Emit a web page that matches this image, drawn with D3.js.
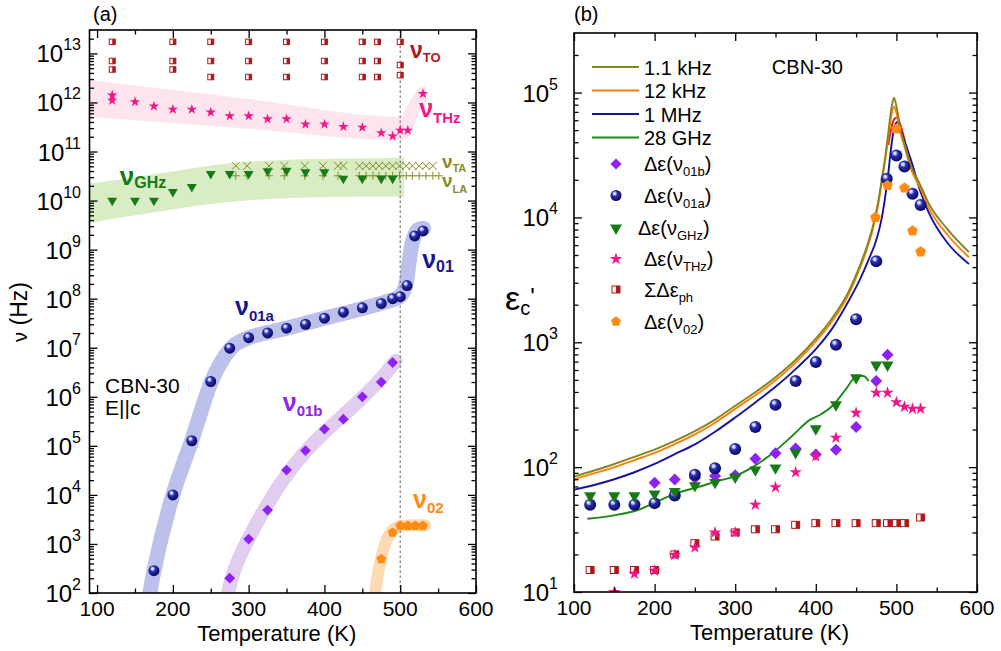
<!DOCTYPE html>
<html><head><meta charset="utf-8">
<script src="https://cdn.jsdelivr.net/npm/d3@7/dist/d3.min.js"></script>
<style>
body{margin:0;background:#fff;}
svg{display:block;}
text{font-family:"Liberation Sans",Arial,Helvetica,sans-serif;}
</style></head>
<body>
<svg id="chart" width="1001" height="651"></svg>
<script>
// ================= Panel (a) data =================
const toT   = [120,120,120,200,200,200,250,250,250,300,300,300,350,350,350,400,400,400,450,450,450,470,470,470,500,500,500];
const toNu  = [1.72e13,7.0e12,4.7e12,1.72e13,7.0e12,4.7e12,1.72e13,7.0e12,3.3e12,1.72e13,7.0e12,3.3e12,1.72e13,7.0e12,3.3e12,1.72e13,7.0e12,3.3e12,1.72e13,7.0e12,3.3e12,1.72e13,7.0e12,3.3e12,1.72e13,5.8e12,3.6e12];

const thzT  = [120,120,150,175,200,225,250,275,300,325,350,375,400,425,450,475,490,500,510,530];
const thzNu = [1.4e12,1.1e12,1.03e12,8.4e11,7.2e11,7.2e11,6.3e11,5.3e11,5.3e11,4.6e11,4.6e11,3.6e11,3.6e11,3.2e11,3.1e11,2.4e11,2.05e11,2.7e11,2.7e11,1.5e12];
const thzBandT  = [90,300,500,510,525,534];
const thzBandLo = [5.1e11,2.9e11,1.71e11,1.9e11,6.3e11,1.12e12];
const thzBandHi = [2.86e12,1.17e12,5.1e11,8.9e11,1.95e12,2.14e12];

const ghzT  = [120,150,175,200,225,250,275,300,325,350,375,400,425,450,475,490];
const ghzNu = [1.0e10,1.0e10,1.0e10,1.5e10,1.9e10,3.5e10,3.5e10,3.5e10,4.0e10,4.1e10,3.8e10,3.8e10,2.8e10,2.8e10,2.8e10,2.8e10];
const ghzBandT  = [90,150,200,275,350,430,505];
const ghzBandLo = [3.5e9,5.0e9,6.6e9,9.3e9,1.12e10,1.18e10,1.2e10];
const ghzBandHi = [2.24e10,3.0e10,3.9e10,5.75e10,6.8e10,7.2e10,7.5e10];

const taT  = [283,298,327,347,374,398,418,425,446,455,464,472,481,490,499,508,516,525,534,543];
const taNu = [5.1e10,5.1e10,5.1e10,5.1e10,5.1e10,5.1e10,5.1e10,5.1e10,5.1e10,5.1e10,5.1e10,5.1e10,5.1e10,5.1e10,5.1e10,5.1e10,5.1e10,5.1e10,5.1e10,5.1e10];
const laT  = [283,298,327,347,374,398,418,446,455,464,472,481,490,499,508,516,525,534,543,551];
const laNu = [3.2e10,3.2e10,3.2e10,3.2e10,3.2e10,3.2e10,3.2e10,3.2e10,3.2e10,3.2e10,3.2e10,3.2e10,3.2e10,3.2e10,3.2e10,3.2e10,3.2e10,3.2e10,3.2e10,3.2e10];

const n01T  = [175,200,225,250,275,300,325,350,375,400,425,450,475,490,500,509,519,530];
const n01Nu = [2.85e2,1.0e4,1.27e5,2.05e6,9.8e6,1.6e7,2.0e7,2.5e7,3.0e7,4.0e7,5.3e7,6.5e7,8.0e7,1.0e8,1.1e8,1.85e8,1.9e9,2.4e9];
const n01BandT  = [166,175,200,225,250,265,280,300,350,400,450,480,500,507,512,517,523,531];
const n01BandNu = [40,2.85e2,1.0e4,1.3e5,1.9e6,5.5e6,1.1e7,1.6e7,2.5e7,4.0e7,6.3e7,8.5e7,1.12e8,1.8e8,6e8,1.6e9,2.5e9,2.7e9];

const n01bT  = [275,300,325,350,375,400,425,450,475,490];
const n01bNu = [2.0e2,1.26e3,4.9e3,3.2e4,8.0e4,2.2e5,3.5e5,1.0e6,2.0e6,5.0e6];
const n01bBandT  = [270,276,285,300,325,350,375,400,425,450,475,494];
const n01bBandNu = [56,178,447,1320,6760,2.63e4,7.9e4,1.9e5,4.2e5,9.5e5,2.3e6,5.4e6];

const n02T  = [475,490,500,510,520,530];
const n02Nu = [4.9e2,1.7e3,2.35e3,2.35e3,2.35e3,2.35e3];
const n02BandT  = [464,470,476,483,490,500,515,533];
const n02BandNu = [40,2.2e2,6e2,1.3e3,1.9e3,2.3e3,2.4e3,2.4e3];

const tcLineT = [500];

// ================= Panel (b) data =================
const lineLabels = ["1.1 kHz","12 kHz","1 MHz","28 GHz"];
const kHz1T = [100,125,150,175,200,225,250,275,300,325,350,375,400,420,440,455,465,472,478,482,486,490,494,497,500,505,510,517,530,540,563,590];
const kHz1E = [84,94,106,121,138,162,194,240,310,398,525,725,1070,1550,2500,4170,6300,9100,1.4e4,2.05e4,3.0e4,4.8e4,7.6e4,9.1e4,7.8e4,5.1e4,3.9e4,2.7e4,1.8e4,1.3e4,8100,5270];
const kHz12T = [100,125,150,175,200,225,250,275,300,325,350,375,400,420,440,455,465,472,478,482,486,490,494,497,500,505,510,517,530,540,563,590];
const kHz12E = [80,89,100,114,130,153,183,227,293,376,497,688,1015,1470,2370,3960,5980,8650,1.33e4,1.95e4,2.85e4,4.4e4,6.7e4,7.7e4,6.9e4,4.8e4,3.7e4,2.55e4,1.7e4,1.2e4,7300,4800];
const redT = [490,494,497,500,503,507,511];
const redE = [3.8e4,5.3e4,6.1e4,6.3e4,6.0e4,5.0e4,4.0e4];
const MHz1T = [100,125,150,175,200,225,250,275,300,325,350,375,400,420,440,455,465,476,482,486,489.5,492,495,498,501,505,509,519,530,540,563,590];
const MHz1E = [66,72,80,91,106,127,152,192,250,330,440,610,880,1280,2100,3200,4500,6900,1.0e4,1.45e4,2.1e4,3.0e4,4.3e4,5.4e4,5.8e4,5.1e4,4.3e4,2.76e4,1.6e4,1.1e4,6300,4240];
const GHz28T = [116.5,153,182,202.7,227.5,256.5,277,298,322.6,351.7,372.3,393,405.5,422,438.6,451,459,465.5];
const GHz28E = [38.6,41.5,46,53,62,70,77,84,101,138,182,240,263,316,432,537,537,490];

const bA_T = [120,150,175,200,225,250,275,300,325,350,375,400,425,450,475,488,500,510,520,530];
const bA_E = [50,50,50,51.5,59.4,87,98,140,210,316,489,695,955,1530,4450,2.04e4,3.14e4,2.56e4,1.55e4,1.26e4];
const b02_T = [474,489,500,510,520,530];
const b02_E = [1.0e4,1.8e4,5.1e4,1.72e4,7.8e3,5.3e3];
const bB_T = [200,225,250,275,300,325,350,375,400,425,450,475,489];
const bB_E = [75,79.5,82,85,86,117,129,141,126,138,210,489,796];
const bG_T = [120,150,175,200,225,250,275,300,325,350,375,400,425,450,475,489];
const bG_E = [59,59,59,61,64,71,75.5,83.3,95,98.6,131,203,316,520,657,657];
const bT_T = [150,175,200,225,250,275,300,325,350,375,400,425,450,475,489,500,510,520,530];
const bT_E = [10,14,14.8,19.8,22.7,30,30,50,69,91,122,172,272,394,394,331,304,293,293];
const bP_T = [120,150,175,200,225,250,275,300,325,350,375,400,425,450,475,489,500,510,530];
const bP_E = [15,15,15,15,20,24.6,27.8,30,31.8,31.8,34.5,35.6,35.6,35.6,35.6,35.6,35.6,35.6,39.5];

// tick values
const xMajor = [100,200,300,400,500,600];
const xMinor = [150,250,350,450,550];
const yMajorA = [1e2,1e3,1e4,1e5,1e6,1e7,1e8,1e9,1e10,1e11,1e12,1e13];
const yMajorB = [1e1,1e2,1e3,1e4,1e5];

// ================= colours =================
const C = {
  red:"#b01818", pink:"#f5158a", pinkBand:"#fde4ee", green:"#177a17", greenBand:"#d8edc4",
  olive:"#8a8a25", navy:"#16168e", blueBand:"#bcc0ea", purple:"#8e22f2", purpleBand:"#e2cdf0",
  orange:"#ff8a14", orangeBand:"#fddab2",
  l1:"#85851f", l2:"#ff7f0a", l3:"#1414a0", l4:"#1b8a1b", lr:"#ff1010"
};

// ================= setup =================
const svg = d3.select("#chart");
const defs = svg.append("defs");
const grad = defs.append("radialGradient").attr("id","sph")
  .attr("cx","42%").attr("cy","40%").attr("r","62%").attr("fx","36%").attr("fy","30%");
[["0%","#ffffff"],["20%","#b8bcf2"],["40%","#2a2eb8"],["100%","#06074e"]].forEach(([o,c])=>grad.append("stop").attr("offset",o).attr("stop-color",c));

const xa = d3.scaleLinear().domain([90,600]).range([89.5,476]);
const ya = d3.scaleLog().domain([1e2,3e13]).range([593,30]);
const xb = d3.scaleLinear().domain([100,600]).range([574,977]);
const yb = d3.scaleLog().domain([10,3e5]).range([592,33]);

function clip(id,x,y){
  defs.append("clipPath").attr("id",id).append("rect")
    .attr("x",x.range()[0]).attr("y",y.range()[1])
    .attr("width",x.range()[1]-x.range()[0]).attr("height",y.range()[0]-y.range()[1]);
}
clip("clipA",xa,ya); clip("clipB",xb,yb);

function minorLog(lo,hi){const r=[];for(let k=Math.floor(Math.log10(lo));k<=Math.ceil(Math.log10(hi));k++)for(let m=2;m<=9;m++){const v=m*Math.pow(10,k);if(v>lo&&v<hi)r.push(v);}return r;}

function drawAxes(x,y,yMaj){
  const g=svg.append("g");
  const [xl,xr]=x.range(), [yB,yT]=y.range();
  const add=(ax,tr)=>g.append("g").attr("transform",tr).call(ax)
    .call(s=>s.select(".domain").remove())
    .call(s=>s.selectAll("line").attr("stroke","#000").attr("stroke-width",1.3));
  const yMin=minorLog(y.domain()[0],y.domain()[1]);
  [[xMajor,8],[xMinor,4.5]].forEach(([v,len])=>{
    add(d3.axisBottom(x).tickValues(v).tickSizeInner(-len).tickSizeOuter(0).tickFormat(""),`translate(0,${yB})`);
    add(d3.axisTop(x).tickValues(v).tickSizeInner(-len).tickSizeOuter(0).tickFormat(""),`translate(0,${yT})`);
  });
  [[yMaj,8],[yMin,4.5]].forEach(([v,len])=>{
    add(d3.axisLeft(y).tickValues(v).tickSizeInner(-len).tickSizeOuter(0).tickFormat(""),`translate(${xl},0)`);
    add(d3.axisRight(y).tickValues(v).tickSizeInner(-len).tickSizeOuter(0).tickFormat(""),`translate(${xr},0)`);
  });
  g.append("rect").attr("x",xl).attr("y",yT).attr("width",xr-xl).attr("height",yB-yT)
    .attr("fill","none").attr("stroke","#000").attr("stroke-width",1.6);
  // x labels
  xMajor.forEach(v=>svg.append("text").attr("x",x(v)).attr("y",yB+23).attr("text-anchor","middle")
    .attr("font-size",21).text(v));
  svg.append("text").attr("x",(xl+xr)/2-6).attr("y",yB+48).attr("text-anchor","middle")
    .attr("font-size",22).text("Temperature (K)");
}
function yLabels(y,vals,xr){
  vals.forEach(v=>{
    const t=svg.append("text").attr("x",xr).attr("y",y(v)+9).attr("text-anchor","end").attr("font-size",24);
    t.append("tspan").text("10");
    t.append("tspan").attr("font-size",16).attr("dy",-12).text(Math.round(Math.log10(v)));
  });
}

const zip=(a,b)=>a.map((d,i)=>[d,b[i]]);
const sym=(type,size)=>d3.symbol().type(type).size(size)();
function pent(r){const p=d3.range(5).map(i=>{const a=-Math.PI/2+i*2*Math.PI/5;return [r*Math.cos(a),r*Math.sin(a)];});return "M"+p.join("L")+"Z";}

function spheres(g,pts,x,y,r){g.selectAll(null).data(pts).join("circle").attr("cx",d=>x(d[0])).attr("cy",d=>y(d[1])).attr("r",r).attr("fill","url(#sph)");}
function shapes(g,pts,x,y,path,fill,rot=0){g.selectAll(null).data(pts).join("path").attr("d",path)
  .attr("transform",d=>`translate(${x(d[0])},${y(d[1])}) rotate(${rot})`).attr("fill",fill);}
function halfSq(g,pts,x,y,w,h){
  const s=g.selectAll(null).data(pts).join("g").attr("transform",d=>`translate(${x(d[0])},${y(d[1])})`);
  s.append("rect").attr("x",-w/2).attr("y",-h/2).attr("width",w).attr("height",h).attr("fill","#fff").attr("stroke",C.red).attr("stroke-width",1);
  s.append("rect").attr("x",0).attr("y",-h/2).attr("width",w/2).attr("height",h).attr("fill",C.red);
}
function nuLabel(x,y,T,v,sub,color,f1,f2,dy){
  const t=svg.append("text").attr("x",x(T)).attr("y",y(v)).attr("fill",color).attr("font-weight","bold");
  t.append("tspan").attr("font-size",f1).text("ν");
  t.append("tspan").attr("font-size",f2).attr("dy",dy).text(sub);
}

// ================= Panel (a) =================
const gA = svg.append("g").attr("clip-path","url(#clipA)");
const area=(x,y)=>d3.area().x(d=>x(d[0])).y0(d=>y(d[1])).y1(d=>y(d[2])).curve(d3.curveMonotoneX);
gA.append("path").datum(thzBandT.map((t,i)=>[t,thzBandLo[i],thzBandHi[i]])).attr("d",area(xa,ya)).attr("fill",C.pinkBand);
gA.append("path").datum(ghzBandT.map((t,i)=>[t,ghzBandLo[i],ghzBandHi[i]])).attr("d",area(xa,ya)).attr("fill",C.greenBand);
const band=(T,V,col,w,curve)=>gA.append("path").datum(zip(T,V)).attr("d",d3.line().x(d=>xa(d[0])).y(d=>ya(d[1])).curve(curve))
  .attr("fill","none").attr("stroke",col).attr("stroke-width",w).attr("stroke-linecap","round").attr("stroke-linejoin","round");
band(n01BandT,n01BandNu,C.blueBand,15,d3.curveCatmullRom);
band(n01bBandT,n01bBandNu,C.purpleBand,14,d3.curveBasis);
band(n02BandT,n02BandNu,C.orangeBand,12,d3.curveMonotoneX);

// Tc dotted line
tcLineT.forEach(t=>gA.append("line").attr("x1",xa(t)).attr("x2",xa(t)).attr("y1",ya.range()[0]).attr("y2",ya.range()[1])
  .attr("stroke","#777").attr("stroke-width",1.2).attr("stroke-dasharray","2.5,2.5"));

// TA / LA
gA.selectAll(null).data(zip(taT,taNu)).join("path").attr("d","M-4,-4L4,4M-4,4L4,-4")
  .attr("transform",d=>`translate(${xa(d[0])},${ya(d[1])})`).attr("stroke",C.olive).attr("stroke-width",1).attr("fill","none");
gA.selectAll(null).data(zip(laT,laNu)).join("path").attr("d","M-4,0L4,0M0,-4L0,4")
  .attr("transform",d=>`translate(${xa(d[0])},${ya(d[1])})`).attr("stroke",C.olive).attr("stroke-width",1).attr("fill","none");

halfSq(gA,zip(toT,toNu),xa,ya,6,5.5);
shapes(gA,zip(thzT,thzNu),xa,ya,sym(d3.symbolStar,34),C.pink);
shapes(gA,zip(ghzT,ghzNu),xa,ya,sym(d3.symbolTriangle,42),C.green,180);
spheres(gA,zip(n01T,n01Nu),xa,ya,5.5);
shapes(gA,zip(n01bT,n01bNu),xa,ya,sym(d3.symbolSquare,58),C.purple,45);
shapes(gA,zip(n02T,n02Nu),xa,ya,pent(5.2),C.orange);

drawAxes(xa,ya,yMajorA);
yLabels(ya,yMajorA,81);

nuLabel(xa,ya,513,8.0e12,"TO",C.red,23,13,4);
nuLabel(xa,ya,525,5.0e11,"THz",C.pink,25,15,6);
nuLabel(xa,ya,555,4.6e10,"TA",C.olive,19,11,4);
nuLabel(xa,ya,555,1.88e10,"LA",C.olive,19,11,6);
nuLabel(xa,ya,130,2.07e10,"GHz",C.green,26,16,3);
nuLabel(xa,ya,282,4.6e7,"01a",C.navy,25,15,6);
nuLabel(xa,ya,529,4.2e8,"01",C.navy,25,16,4);
nuLabel(xa,ya,345,5.1e5,"01b",C.purple,25,15,5);
nuLabel(xa,ya,517,5.4e3,"02",C.orange,25,15,5);

svg.append("text").attr("x",xa(110.5)).attr("y",ya(1.19e6)).attr("font-size",21).text("CBN-30");
svg.append("text").attr("x",xa(110.5)).attr("y",ya(4.2e5)).attr("font-size",21).text("E||c");
svg.append("text").attr("x",93).attr("y",21).attr("font-size",20).text("(a)");
{
  const t=svg.append("text").attr("transform","translate(27,312) rotate(-90)").attr("text-anchor","middle").attr("font-size",23);
  t.append("tspan").attr("font-size",20).text("ν");
  t.append("tspan").text(" (Hz)");
}

// ================= Panel (b) =================
const gB = svg.append("g").attr("clip-path","url(#clipB)");
const ln=d3.line().x(d=>xb(d[0])).y(d=>yb(d[1])).curve(d3.curveMonotoneX);
const drawLine=(T,E,col)=>gB.append("path").datum(zip(T,E)).attr("d",ln).attr("fill","none").attr("stroke",col).attr("stroke-width",1.9);
drawLine(GHz28T,GHz28E,C.l4);
drawLine(redT,redE,C.lr);
drawLine(MHz1T,MHz1E,C.l3);
drawLine(kHz12T,kHz12E,C.l2);
drawLine(kHz1T,kHz1E,C.l1);

halfSq(gB,zip(bP_T,bP_E),xb,yb,8,7);
shapes(gB,zip(bB_T,bB_E),xb,yb,sym(d3.symbolSquare,72),C.purple,45);
spheres(gB,zip(bA_T,bA_E),xb,yb,6);
shapes(gB,zip(bG_T,bG_E),xb,yb,sym(d3.symbolTriangle,62),C.green,180);
shapes(gB,zip(bT_T,bT_E),xb,yb,sym(d3.symbolStar,48),C.pink);
shapes(gB,zip(b02_T,b02_E),xb,yb,pent(5.6),C.orange);

drawAxes(xb,yb,yMajorB);
yLabels(yb,yMajorB,558);

svg.append("text").attr("x",574).attr("y",21).attr("font-size",20).text("(b)");
svg.append("text").attr("x",xb(345.5)).attr("y",yb(1.42e5)).attr("font-size",20).text("CBN-30");
{
  const t=svg.append("text").attr("x",505).attr("y",310);
  t.append("tspan").attr("font-size",34).text("ε");
  t.append("tspan").attr("font-size",20).attr("dy",5).text("c");
  t.append("tspan").attr("font-size",24).attr("dy",-10).text("'");
}

// legend
const legCols=[C.l1,C.l2,C.l3,C.l4];
const legLineY=[67,90.5,114,137.5];
lineLabels.forEach((lab,i)=>{
  svg.append("line").attr("x1",592).attr("x2",639).attr("y1",legLineY[i]).attr("y2",legLineY[i]).attr("stroke",legCols[i]).attr("stroke-width",1.9);
  svg.append("text").attr("x",644).attr("y",legLineY[i]+7.5).attr("font-size",20).text(lab);
});
const legMarkY=[164,195.5,228,259,289.5,321.5];
const legSubs=[["Δε(ν","01b",")"],["Δε(ν","01a",")"],["Δε(ν","GHz",")"],["Δε(ν","THz",")"],["ΣΔε","ph",""],["Δε(ν","02",")"]];
const lg=svg.append("g");
const mx=616;
lg.append("path").attr("d",sym(d3.symbolSquare,60)).attr("transform",`translate(${mx},${legMarkY[0]}) rotate(45)`).attr("fill",C.purple);
lg.append("circle").attr("cx",mx).attr("cy",legMarkY[1]).attr("r",5.5).attr("fill","url(#sph)");
lg.append("path").attr("d",sym(d3.symbolTriangle,62)).attr("transform",`translate(${mx},${legMarkY[2]}) rotate(180)`).attr("fill",C.green);
lg.append("path").attr("d",sym(d3.symbolStar,48)).attr("transform",`translate(${mx},${legMarkY[3]})`).attr("fill",C.pink);
lg.append("rect").attr("x",mx-4).attr("y",legMarkY[4]-3.5).attr("width",8).attr("height",7).attr("fill","#fff").attr("stroke",C.red);
lg.append("rect").attr("x",mx).attr("y",legMarkY[4]-3.5).attr("width",4).attr("height",7).attr("fill",C.red);
lg.append("path").attr("d",pent(5.2)).attr("transform",`translate(${mx},${legMarkY[5]})`).attr("fill",C.orange);
legSubs.forEach((s,i)=>{
  const t=svg.append("text").attr("x",i===2?638:644).attr("y",legMarkY[i]+7).attr("font-size",20);
  t.append("tspan").text(s[0]);
  t.append("tspan").attr("font-size",13).attr("dy",5).text(s[1]);
  t.append("tspan").attr("dy",-5).text(s[2]);
});
</script>
</body></html>
